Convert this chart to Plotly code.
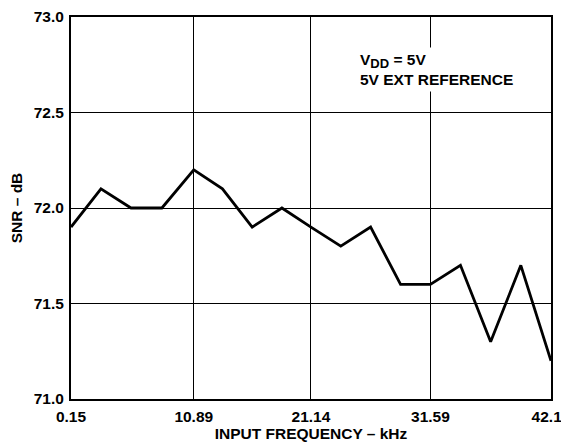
import plotly.graph_objects as go

freq_khz = [0.15, 2.77, 5.40, 8.10, 10.89, 13.40, 16.00, 18.60, 21.14,
            23.75, 26.36, 28.98, 31.59, 34.22, 36.86, 39.50, 42.14]
snr_db = [71.9, 72.1, 72.0, 72.0, 72.2, 72.1, 71.9, 72.0, 71.9,
          71.8, 71.9, 71.6, 71.6, 71.7, 71.3, 71.7, 71.2]
x_ticks = [0.15, 10.89, 21.14, 31.59, 42.14]
x_ticklabels = ["0.15", "10.89", "21.14", "31.59", "42.14"]
y_ticks = [71.0, 71.5, 72.0, 72.5, 73.0]
y_ticklabels = ["71.0", "71.5", "72.0", "72.5", "73.0"]

font_family = "Liberation Sans, Arial, sans-serif"
fs = 15.5

fig = go.Figure()
fig.add_trace(go.Scatter(
    x=freq_khz, y=snr_db, mode="lines",
    line=dict(color="black", width=2.8),
    showlegend=False, hoverinfo="skip",
))

fig.add_annotation(
    x=0.594, y=0.921, xref="paper", yref="paper",
    xanchor="left", yanchor="top", align="left",
    text="<b>V<sub><span style='font-size:13px'>DD</span></sub> = 5V<br>5V EXT REFERENCE</b>",
    showarrow=False, bgcolor="white", borderpad=3,
    font=dict(family=font_family, size=fs, color="black"),
)

# page body has an 8px margin, so the figure is sized to fit inside the window
fig.update_layout(
    width=561, height=435,
    margin=dict(l=63, r=18, t=9, b=44),
    paper_bgcolor="white", plot_bgcolor="white",
    font=dict(family=font_family, size=fs, color="black"),
    xaxis=dict(
        range=[0.15, 42.14], tickvals=x_ticks,
        ticktext=["<b>%s</b>" % t for t in x_ticklabels],
        showgrid=True, gridcolor="black", gridwidth=1,
        showline=True, linecolor="black", linewidth=2, mirror=True,
        ticks="", zeroline=False, automargin=False, ticklabelstandoff=2,
        ticklabeloverflow="allow",
        title=dict(text="<b>INPUT FREQUENCY – kHz</b>", font=dict(size=fs), standoff=0),
    ),
    yaxis=dict(
        range=[71.0, 73.0], tickvals=y_ticks,
        ticktext=["<b>%s</b>" % t for t in y_ticklabels],
        showgrid=True, gridcolor="black", gridwidth=1,
        showline=True, linecolor="black", linewidth=2, mirror=True,
        ticks="", zeroline=False, automargin=False, ticklabelstandoff=2,
        ticklabeloverflow="allow",
        title=dict(text="<b>SNR – dB</b>", font=dict(size=fs), standoff=12),
    ),
)

fig.write_html("out.html")
